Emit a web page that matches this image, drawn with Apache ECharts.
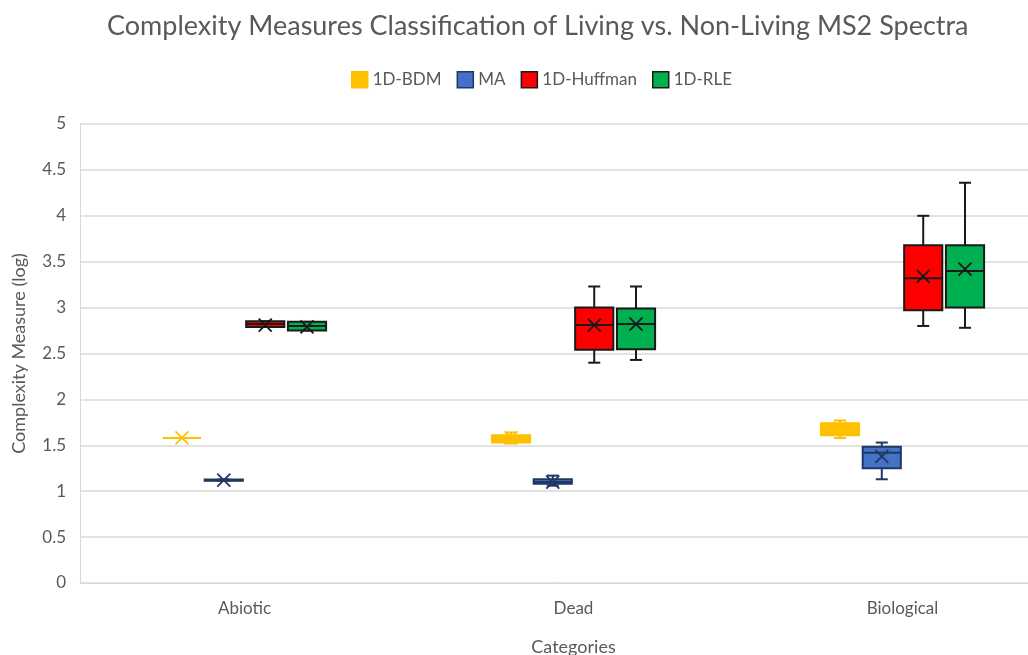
<!DOCTYPE html>
<html>
<head>
<meta charset="utf-8">
<script src="https://cdn.jsdelivr.net/npm/echarts@6/dist/echarts.min.js"></script>
<style>
  html, body { margin: 0; padding: 0; background: #fff; }
  #chart { width: 1028px; height: 655px; }
</style>
</head>
<body>
<div id="chart"></div>
<script>
const categories = ['Abiotic', 'Dead', 'Biological']
const seriesNames = ['1D-BDM', 'MA', '1D-Huffman', '1D-RLE']

// each row: [min, q1, median, q3, max, mean]
const bdm = [
  [1.58, 1.58, 1.58, 1.58, 1.58, 1.58],
  [1.52, 1.53, 1.58, 1.61, 1.64, 1.58],
  [1.58, 1.61, 1.67, 1.74, 1.77, 1.68]
]
const ma = [
  [1.115, 1.115, 1.12, 1.128, 1.128, 1.12],
  [1.06, 1.08, 1.10, 1.13, 1.17, 1.10],
  [1.13, 1.25, 1.42, 1.485, 1.53, 1.38]
]
const huffman = [
  [2.79, 2.79, 2.82, 2.85, 2.85, 2.81],
  [2.40, 2.54, 2.81, 3.00, 3.23, 2.81],
  [2.80, 2.97, 3.32, 3.68, 4.00, 3.34]
]
const rle = [
  [2.75, 2.75, 2.80, 2.845, 2.845, 2.79],
  [2.43, 2.545, 2.82, 2.99, 3.23, 2.82],
  [2.78, 3.00, 3.40, 3.68, 4.36, 3.42]
]

const fills = ['#FFC000', '#4472C4', '#FF0000', '#00B050']
const strokes = ['#FFC000', '#1F3864', '#1a1a1a', '#1a1a1a']
const offsets = [-0.19, -0.063, 0.063, 0.19]

const FONT = 'Lato'
const TEXT = '#595959'

const makeRender = (idx) => (params, api) => {
  const ci = api.value(0)
  const band = api.size([1, 0])[0]
  const xc = api.coord([ci, 0])[0] + offsets[idx] * band
  const w = band * 0.116
  const y = (d) => api.coord([ci, api.value(d)])[1]
  const yMin = y(1), yQ1 = y(2), yMed = y(3), yQ3 = y(4), yMax = y(5), yMean = y(6)
  const lineStyle = { stroke: strokes[idx], lineWidth: 2 }
  const cap = 6
  const m = 6.5
  return {
    type: 'group',
    children: [
      { type: 'line', shape: { x1: xc, y1: yMax, x2: xc, y2: yQ3 }, style: lineStyle },
      { type: 'line', shape: { x1: xc, y1: yQ1, x2: xc, y2: yMin }, style: lineStyle },
      { type: 'line', shape: { x1: xc - cap, y1: yMax, x2: xc + cap, y2: yMax }, style: lineStyle },
      { type: 'line', shape: { x1: xc - cap, y1: yMin, x2: xc + cap, y2: yMin }, style: lineStyle },
      {
        type: 'rect',
        shape: { x: xc - w / 2, y: yQ3, width: w, height: yQ1 - yQ3 },
        style: { fill: fills[idx], stroke: strokes[idx], lineWidth: 2 }
      },
      { type: 'line', shape: { x1: xc - w / 2, y1: yMed, x2: xc + w / 2, y2: yMed }, style: lineStyle },
      { type: 'line', shape: { x1: xc - m, y1: yMean - m, x2: xc + m, y2: yMean + m }, style: { stroke: strokes[idx], lineWidth: 1.8 } },
      { type: 'line', shape: { x1: xc - m, y1: yMean + m, x2: xc + m, y2: yMean - m }, style: { stroke: strokes[idx], lineWidth: 1.8 } }
    ]
  }
}

const toData = (rows) => rows.map((r, i) => [i, ...r])

const chart = echarts.init(document.getElementById('chart'))

chart.setOption({
  animation: false,
  textStyle: { fontFamily: FONT },
  title: {
    text: 'Complexity Measures Classification of Living vs. Non-Living MS2 Spectra',
    left: 102,
    top: 8,
    textStyle: { fontFamily: FONT, fontSize: 27, fontWeight: 'normal', color: TEXT }
  },
  legend: {
    left: 346,
    top: 66,
    itemWidth: 16,
    itemHeight: 16,
    itemGap: 15,
    icon: 'rect',
    textStyle: { fontFamily: FONT, fontSize: 17, color: TEXT },
    data: seriesNames.map((n, i) => ({
      name: n,
      itemStyle: { color: fills[i], borderColor: strokes[i], borderWidth: 1.5 }
    }))
  },
  grid: { left: 80, top: 124, width: 987, height: 459, outerBoundsMode: 'none' },
  xAxis: {
    type: 'category',
    data: categories,
    name: 'Categories',
    nameLocation: 'middle',
    nameGap: 55,
    nameTextStyle: { fontFamily: FONT, fontSize: 18, color: TEXT },
    axisTick: { show: false },
    axisLine: { lineStyle: { color: '#d9d9d9', width: 1 } },
    axisLabel: { fontFamily: FONT, fontSize: 17, color: TEXT, margin: 17 }
  },
  yAxis: {
    type: 'value',
    min: 0,
    max: 5,
    interval: 0.5,
    name: 'Complexity Measure (log)',
    nameLocation: 'middle',
    nameGap: 52,
    nameTextStyle: { fontFamily: FONT, fontSize: 18, color: TEXT },
    axisLine: { show: true, lineStyle: { color: '#d9d9d9', width: 1 } },
    axisTick: { show: false },
    splitLine: { lineStyle: { color: '#d9d9d9', width: 1.5 } },
    axisLabel: { fontFamily: FONT, fontSize: 17, color: TEXT, margin: 14 }
  },
  series: [bdm, ma, huffman, rle].map((rows, i) => ({
    name: seriesNames[i],
    type: 'custom',
    itemStyle: { color: fills[i], borderColor: strokes[i] },
    encode: { x: 0, y: [1, 2, 3, 4, 5, 6] },
    data: toData(rows),
    renderItem: makeRender(i)
  }))
})
</script>
</body>
</html>
